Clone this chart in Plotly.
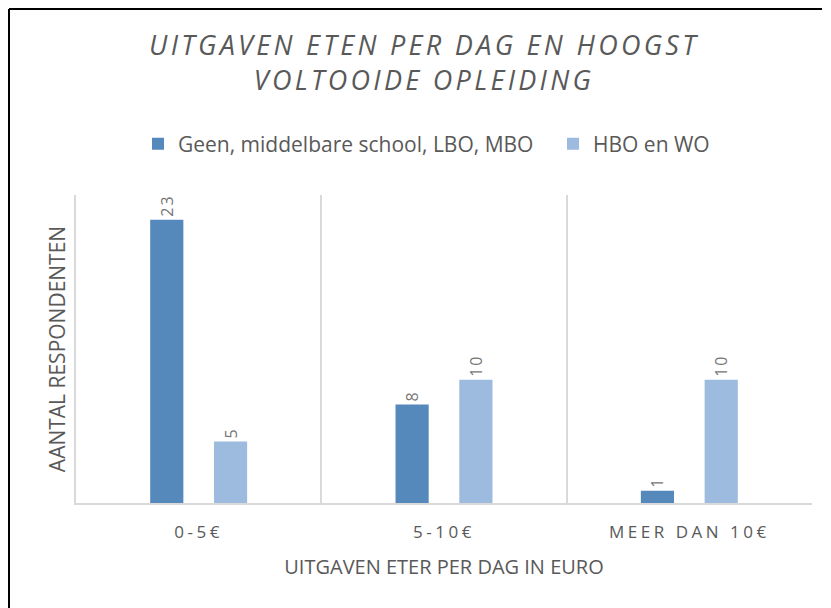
import plotly.graph_objects as go

categories = ["0-5€", "5-10€", "MEER DAN 10€"]
series_names = ["Geen, middelbare school, LBO, MBO", "HBO en WO"]
values_low = [23, 8, 1]
values_high = [5, 10, 10]
colors = ["#5689BB", "#9CBBDF"]

title_text = "UITGAVEN ETEN PER DAG EN HOOGST<br>VOLTOOIDE OPLEIDING"
x_title = "UITGAVEN ETER PER DAG IN EURO"
y_title = "AANTAL RESPONDENTEN"

FONT = "Open Sans"
GRAY = "#595959"

# plot area in figure pixels
L, R, T, B = 68, 804, 187, 495
PW, PH = R - L, B - T


def spaced(s, px):
    return f'<span style="letter-spacing:{px}px">{s}</span>'


def px_x(x):
    return (x - L) / PW


def px_y(y):
    return (B - y) / PH


fig = go.Figure()
for name, vals, col, lg in zip(series_names, [values_low, values_high], colors, ["legend", "legend2"]):
    fig.add_trace(go.Bar(
        x=categories, y=vals, name=name, marker_color=col,
        marker_line_width=0, legend=lg,
        text=[spaced(str(v), 2) for v in vals], textposition="outside", textangle=-90,
        textfont=dict(family=FONT, size=16, color="#767676"),
        cliponaxis=False,
    ))

legend_common = dict(
    orientation="h", xanchor="left", yanchor="middle",
    font=dict(family=FONT, size=21, color=GRAY),
    itemwidth=30, bgcolor="rgba(0,0,0,0)",
)

fig.update_layout(
    width=831, height=608,
    margin=dict(l=L, r=831 - R, t=T, b=608 - B),
    paper_bgcolor="white", plot_bgcolor="white",
    barmode="group", bargap=0.48, bargroupgap=0.48,
    title=dict(
        text=spaced(title_text, 3.3),
        x=416 / 831, xanchor="center", xref="container",
        y=1 - 47 / 608, yanchor="top", yref="container",
        font=dict(family=FONT, size=27, color=GRAY, style="italic"),
    ),
    legend=dict(x=px_x(130), y=px_y(136), **legend_common),
    legend2=dict(x=px_x(545), y=px_y(136), **legend_common),
    showlegend=True,
)

fig.update_xaxes(
    tickson="boundaries", ticklen=0, showgrid=True, gridcolor="#D9D9D9", gridwidth=1.5,
    showline=True, linecolor="#D9D9D9", linewidth=2,
    tickfont=dict(family=FONT, size=17, color=GRAY),
    ticktext=[spaced(c, 3.5) for c in categories], tickvals=categories,
    ticklabelstandoff=13,
    title=dict(text=x_title, font=dict(family=FONT, size=20, color=GRAY), standoff=18),
)
fig.update_yaxes(
    range=[0, 25], showticklabels=False, showgrid=False, zeroline=False,
    showline=True, linecolor="#D9D9D9", linewidth=1.5, ticks="",
    title=dict(text=y_title, font=dict(family=FONT, size=21, color=GRAY), standoff=3),
)

# outer frame (top and left edges visible in the reference)
fig.add_shape(type="line", xref="paper", yref="paper",
              x0=px_x(1), x1=px_x(814), y0=px_y(1), y1=px_y(1),
              line=dict(color="black", width=2))
fig.add_shape(type="line", xref="paper", yref="paper",
              x0=px_x(1), x1=px_x(1), y0=px_y(1), y1=px_y(640),
              line=dict(color="black", width=2))

fig.write_html("out.html")
